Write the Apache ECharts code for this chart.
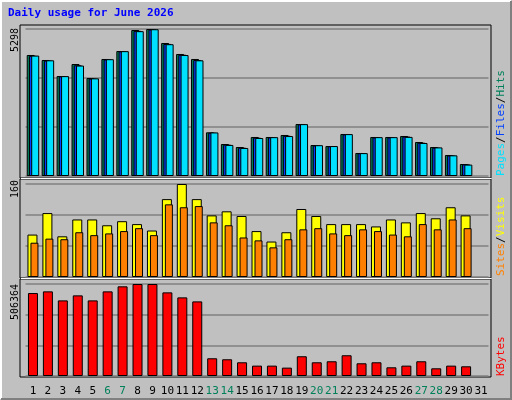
<!DOCTYPE html><html><head><meta charset="utf-8">
<script src="https://cdn.jsdelivr.net/npm/echarts@6/dist/echarts.min.js"></script>
<style>body{margin:0;background:#c0c0c0}#c{width:512px;height:400px}</style></head><body><div id="c"></div>
<script>
const days = Array.from({length:31},(_,i)=>String(i+1));
const weekend = [6,7,13,14,20,21,27,28];
const hits = [4361,4181,3604,4036,3532,4217,4505,5262,5298,4793,4397,4217,1574,1153,1045,1406,1406,1478,1874,1117,1081,1514,829,1406,1406,1442,1225,1045,757,432,null];
const files = [4330,4160,3590,3990,3510,4200,4490,5230,5280,4760,4370,4180,1560,1130,1020,1380,1390,1450,1860,1100,1070,1500,820,1390,1390,1420,1200,1020,740,420,null];
const pages = [4340,4170,3600,3980,3520,4210,4500,5220,5290,4750,4360,4170,1570,1120,1010,1370,1400,1440,1870,1110,1080,1510,825,1400,1400,1410,1190,1030,745,410,null];
const visits = [73,110,70,99,99,89,96,91,80,134,160,134,106,113,105,79,61,77,117,105,91,91,91,87,99,94,110,101,120,106,null];
const sites = [59,66,65,77,72,75,79,84,72,125,120,122,94,89,68,63,51,65,82,84,75,72,82,79,73,70,91,82,99,84,null];
const kbytes = [456656,465855,416142,443761,416142,465855,493475,506364,506364,460331,432712,410615,97589,92066,75494,57081,57081,46033,108638,75494,81018,114162,69969,75494,47874,57081,81018,42350,57081,53398,null];
const maxHits=5298, maxVisits=160, maxK=506364;

const L=25.5,R=23.5;
const grids=[{top:29,height:147},{top:184,height:93},{top:284,height:92}];
const mono='DejaVu Sans Mono';
function yax(i,max){return {gridIndex:i,type:'value',min:0,max:max,interval:max/3,axisLabel:{show:false},axisLine:{show:false},axisTick:{show:false},splitLine:{lineStyle:{color:'#808080',width:1.5}}};}
function xax(i,show){return {gridIndex:i,type:'category',data:days,axisLine:{show:false},axisTick:{show:false},
 axisLabel:{show:show,interval:0,margin:10,fontFamily:mono,fontSize:11,formatter:v=>weekend.includes(+v)?'{g|'+v+'}':v,color:'#000',rich:{g:{color:'#00805a',fontFamily:mono,fontSize:11}}}};}
const bs=(w)=>({borderColor:'#000',borderWidth:1});
const chart=echarts.init(document.getElementById('c'));
chart.setOption({
 backgroundColor:'#c0c0c0',animation:false,
 grid:grids.map(g=>({left:L,right:R,top:g.top,height:g.height})),
 xAxis:[xax(0,false),xax(1,false),xax(2,true)],
 yAxis:[yax(0,maxHits),yax(1,maxVisits),yax(2,maxK)],
 series:[
  {type:'bar',xAxisIndex:0,yAxisIndex:0,data:hits,barWidth:8,barGap:'-72%',itemStyle:{color:'#00805a',...bs()}},
  {type:'bar',xAxisIndex:0,yAxisIndex:0,data:files,barWidth:8,barGap:'-72%',itemStyle:{color:'#0040ff',...bs()}},
  {type:'bar',xAxisIndex:0,yAxisIndex:0,data:pages,barWidth:8,barGap:'-72%',itemStyle:{color:'#00e0ff',...bs()}},
  {type:'bar',xAxisIndex:1,yAxisIndex:1,data:visits,barWidth:10,barGap:'-70%',itemStyle:{color:'#ffff00',...bs()}},
  {type:'bar',xAxisIndex:1,yAxisIndex:1,data:sites,barWidth:8,barGap:'-70%',itemStyle:{color:'#ff8000',...bs()}},
  {type:'bar',xAxisIndex:2,yAxisIndex:2,data:kbytes,barWidth:10,itemStyle:{color:'#ff0000',...bs()}}
 ],
 graphic:[
  {type:'polyline',shape:{points:[[1,399],[1,1],[511,1]]},style:{stroke:'#fff',lineWidth:2,fill:null}},
  {type:'polyline',shape:{points:[[1,399],[511,399],[511,1]]},style:{stroke:'#808080',lineWidth:2,fill:null}},
  {type:'rect',shape:{x:20,y:25,width:471,height:153},style:{fill:null,stroke:'#000',lineWidth:1}},
  {type:'rect',shape:{x:20,y:179,width:471,height:99},style:{fill:null,stroke:'#000',lineWidth:1}},
  {type:'rect',shape:{x:20,y:279,width:471,height:98},style:{fill:null,stroke:'#000',lineWidth:1}},
  {type:'line',shape:{x1:21,y1:178.5,x2:491,y2:178.5},style:{stroke:'#fff',lineWidth:1}},
  {type:'line',shape:{x1:21,y1:278.5,x2:491,y2:278.5},style:{stroke:'#fff',lineWidth:1}},
  {type:'text',left:8,top:8,style:{text:'Daily usage for June 2026',font:'bold 11px "DejaVu Sans Mono"',fill:'#0000ff'}},
  {type:'text',x:10,y:52,rotation:Math.PI/2,style:{text:String(maxHits),font:'10px "DejaVu Sans Mono"',fill:'#000'}},
  {type:'text',x:10,y:198,rotation:Math.PI/2,style:{text:String(maxVisits),font:'10px "DejaVu Sans Mono"',fill:'#000'}},
  {type:'text',x:10,y:320,rotation:Math.PI/2,style:{text:String(maxK),font:'10px "DejaVu Sans Mono"',fill:'#000'}},
  {type:'text',x:496,y:176,rotation:Math.PI/2,style:{rich:{a:{fill:'#00e0ff',font:'11px "DejaVu Sans Mono"'},b:{fill:'#0040ff',font:'11px "DejaVu Sans Mono"'},c:{fill:'#00805a',font:'11px "DejaVu Sans Mono"'},s:{fill:'#000',font:'11px "DejaVu Sans Mono"'}},text:'{a|Pages}{s|/}{b|Files}{s|/}{c|Hits}'}},
  {type:'text',x:496,y:276,rotation:Math.PI/2,style:{rich:{a:{fill:'#ff8000',font:'11px "DejaVu Sans Mono"'},b:{fill:'#ffff00',font:'11px "DejaVu Sans Mono"'},s:{fill:'#000',font:'11px "DejaVu Sans Mono"'}},text:'{a|Sites}{s|/}{b|Visits}'}},
  {type:'text',x:496,y:376,rotation:Math.PI/2,style:{text:'KBytes',font:'11px "DejaVu Sans Mono"',fill:'#ff0000'}}
 ]
});
</script></body></html>
